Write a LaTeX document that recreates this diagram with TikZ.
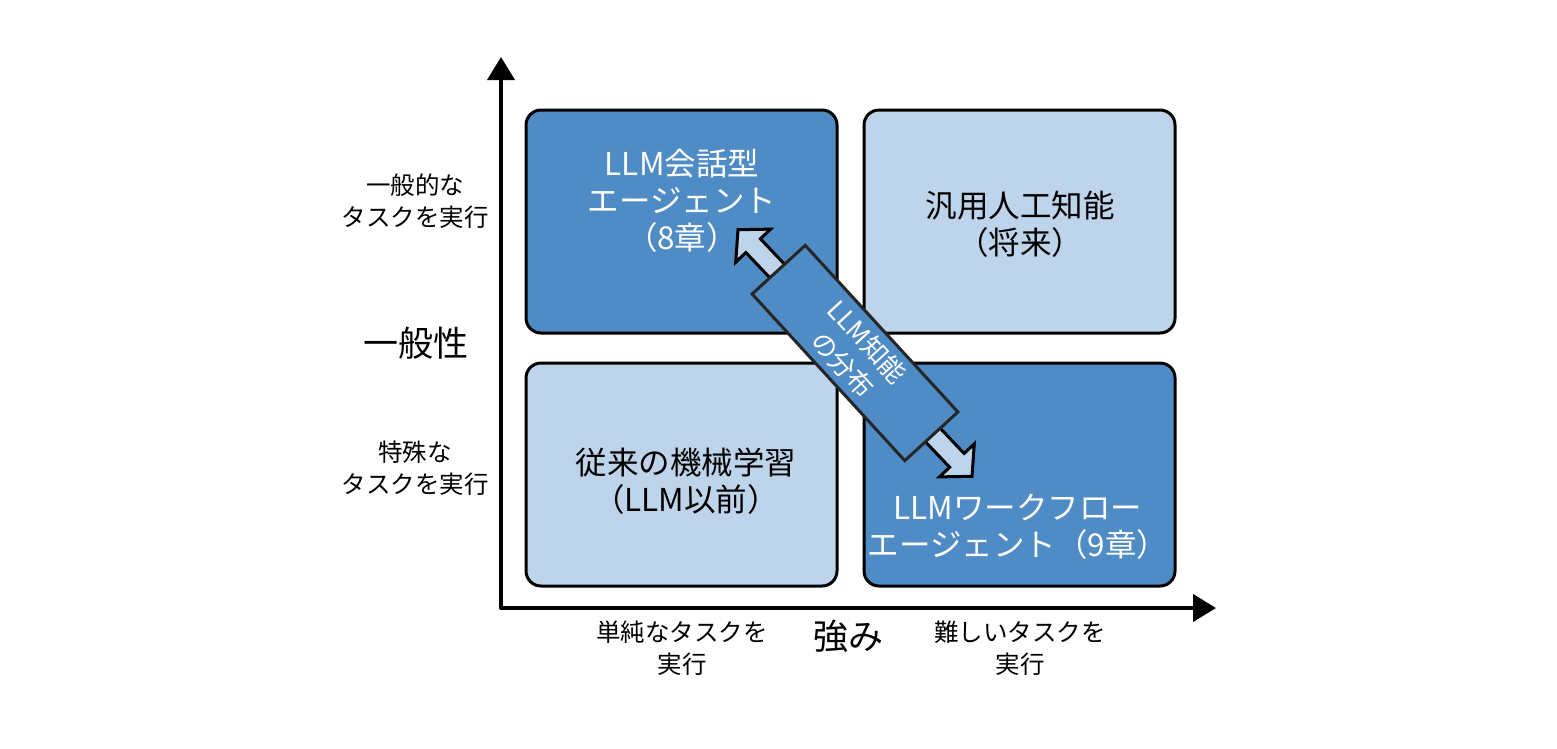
\documentclass[tikz,border=0pt]{standalone}
\usepackage{fontspec}
\setmainfont{Noto Sans CJK JP}
\usetikzlibrary{arrows.meta}
\definecolor{qdark}{RGB}{79,139,196}
\definecolor{qlight}{RGB}{189,212,234}
\tikzset{
  quad/.style={draw=black, line width=3pt, rounded corners=15pt, minimum width=311pt, minimum height=223pt, inner sep=0pt},
  darkquad/.style={quad, fill=qdark},
  lightquad/.style={quad, fill=qlight},
  boxtext/.style={align=center, font=\fontsize{31.5}{37}\selectfont},
  axistext/.style={align=center, font=\fontsize{24.5}{32}\selectfont},
  axisname/.style={font=\fontsize{35}{40}\selectfont},
}

\begin{document}
\begin{tikzpicture}[x=1pt,y=1pt]
  \useasboundingbox (0,0) rectangle (1557,-748);
  % axes
  \coordinate (origin) at (501,-608);
  \coordinate (ytip) at (501,-57);
  \coordinate (xtip) at (1216,-608);
  \draw[line width=4pt, line join=round, {Triangle[length=23pt,width=27pt]}-{Triangle[length=23pt,width=27pt]}] (ytip) -- (origin) -- (xtip);
  % quadrants
  \node[darkquad] (conv) at (681.5,-221.5) {};
  \node[lightquad] (agi) at (1019.5,-221.5) {};
  \node[lightquad] (classic) at (681.5,-474.5) {};
  \node[darkquad] (workflow) at (1019.5,-474.5) {};
  \node[boxtext, text=white] (convtext) at (682,-201) {LLM会話型\\エージェント\\（8章）};
  \node[boxtext] (agitext) at (1020,-224) {汎用人工知能\\（将来）};
  \node[boxtext] (classictext) at (686,-481) {従来の機械学習\\（LLM以前）};
  \node[boxtext, text=white] (workflowtext) at (1018,-527) {LLMワークフロー\\エージェント（9章）};
  % axis labels
  \node[axistext] (general) at (415,-201) {一般的な\\タスクを実行};
  \node[axisname] (generality) at (416,-343) {一般性};
  \node[axistext] (special) at (415,-468) {特殊な\\タスクを実行};
  \node[axistext] (simple) at (682,-648) {単純なタスクを\\実行};
  \node[axisname] (strength) at (848,-636) {強み};
  \node[axistext] (hard) at (1020,-648) {難しいタスクを\\実行};
  % distribution arrow
  \begin{scope}[shift={(855,-353)}, rotate=-46.5]
    \draw[line width=3pt, fill=qlight] (-170,0) -- (-148,24) -- (-148,10) -- (148,10) -- (148,24)
      -- (170,0) -- (148,-24) -- (148,-10) -- (-148,-10) -- (-148,-24) -- cycle;
  \end{scope}
  \node[draw=black!85, line width=3pt, fill=qdark, rotate=-47.5, minimum width=226pt, minimum height=72pt,
        inner sep=0pt, text=white, align=center, font=\fontsize{26}{33}\selectfont] (dist) at (855,-353) {LLM知能\\の分布};
\end{tikzpicture}
\end{document}
